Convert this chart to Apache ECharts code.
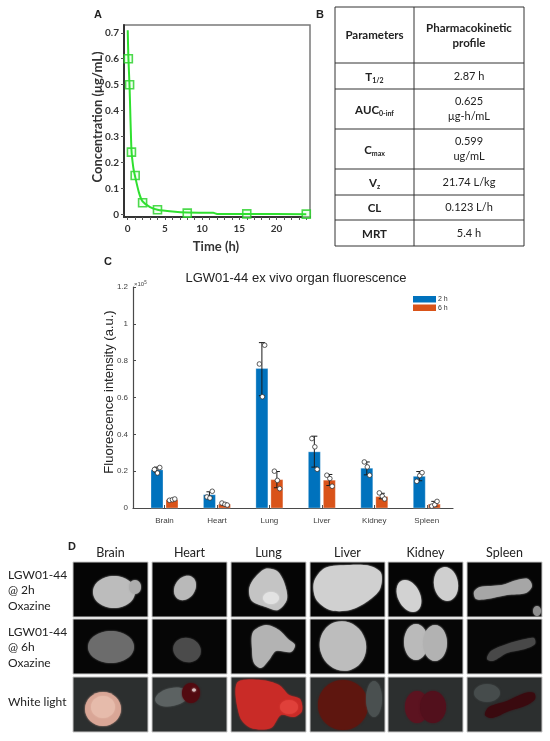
<!DOCTYPE html>
<html>
<head>
<meta charset="utf-8">
<script src="https://cdn.jsdelivr.net/npm/echarts@6/dist/echarts.min.js"></script>
<style>
  html, body { margin: 0; padding: 0; background: #fff; }
  #chart { width: 550px; height: 741px; }
</style>
</head>
<body>
<div id="chart"></div>
<script>
// ---- panel A : plasma concentration ----
const timePoints = [0.083, 0.25, 0.5, 1, 2, 4, 8, 16, 24];
const concValues = [0.6, 0.5, 0.24, 0.15, 0.045, 0.018, 0.005, 0.002, 0.001];
const fitTimes = [0, 0.083, 0.25, 0.5, 0.75, 1, 1.5, 2, 3, 4, 6, 8, 11.5, 12, 16, 24];
const fitValues = [0.71, 0.61, 0.49, 0.25, 0.18, 0.145, 0.085, 0.05, 0.028, 0.018, 0.011, 0.007, 0.006, 0.002, 0.0015, 0.001];
const timeTicks = [0, 5, 10, 15, 20];
const concTicks = [0, 0.1, 0.2, 0.3, 0.4, 0.5, 0.6, 0.7];

// ---- panel B : PK table ----
const paramNames = ['{b|T}{s|1/2}', '{b|AUC}{s|0-inf}', '{b|C}{s|max}', '{b|V}{s|z}', '{b|CL}', '{b|MRT}'];
const paramValues = ['2.87 h', '0.625\nμg-h/mL', '0.599\nug/mL', '21.74 L/kg', '0.123 L/h', '5.4 h'];

// ---- panel C : organ fluorescence (x10^5) ----
const organs = ['Brain', 'Heart', 'Lung', 'Liver', 'Kidney', 'Spleen'];
const mean2h = [0.207, 0.072, 0.757, 0.305, 0.216, 0.172];
const mean6h = [0.045, 0.021, 0.154, 0.151, 0.062, 0.021];
const low2h = [0.195, 0.058, 0.61, 0.222, 0.18, 0.148];
const high2h = [0.222, 0.088, 0.898, 0.39, 0.25, 0.198];
const low6h = [0.042, 0.016, 0.11, 0.122, 0.05, 0.008];
const high6h = [0.049, 0.026, 0.198, 0.182, 0.08, 0.036];
const dots2h = [[0.209, 0.19, 0.22], [0.06, 0.054, 0.091], [0.782, 0.604, 0.884], [0.377, 0.332, 0.21], [0.25, 0.223, 0.178], [0.145, 0.176, 0.192]];
const dots6h = [[0.042, 0.045, 0.049], [0.027, 0.02, 0.016], [0.2, 0.15, 0.105], [0.178, 0.16, 0.118], [0.082, 0.064, 0.049], [0.01, 0.018, 0.036]];
const groupNames = ['2 h', '6 h'];

// ---- panel D : image grid labels ----
const rowLabels = ['LGW01-44\n@ 2h\nOxazine', 'LGW01-44\n@ 6h\nOxazine', 'White light'];

const barColors = ['#0072BD', '#D95319'];
const jitter = [-2.5, 0.5, 2.8];

const chart = echarts.init(document.getElementById('chart'));

const barData = [];
const dotData = [];
organs.forEach((o, i) => {
  barData.push([i + 1, mean2h[i], low2h[i], high2h[i], 0]);
  barData.push([i + 1, mean6h[i], low6h[i], high6h[i], 1]);
  dots2h[i].forEach((v, k) => dotData.push([i + 1, v, 0, k]));
  dots6h[i].forEach((v, k) => dotData.push([i + 1, v, 1, k]));
});

function renderBar(params, api) {
  const g = api.value(4);
  const shift = g === 0 ? -7.5 : 7.5;
  const top = api.coord([api.value(0), api.value(1)]);
  const base = api.coord([api.value(0), 0]);
  const lo = api.coord([api.value(0), api.value(2)]);
  const hi = api.coord([api.value(0), api.value(3)]);
  const cx = top[0] + shift;
  const ink = { stroke: '#1a1a1a', lineWidth: 1 };
  return {
    type: 'group',
    children: [
      { type: 'rect', shape: { x: cx - 6, y: top[1], width: 12, height: base[1] - top[1] },
        style: { fill: barColors[g], stroke: 'rgba(255,255,255,0.5)', lineWidth: 0.6 } },
      { type: 'line', shape: { x1: cx, y1: lo[1], x2: cx, y2: hi[1] }, style: ink },
      { type: 'line', shape: { x1: cx - 3, y1: lo[1], x2: cx + 3, y2: lo[1] }, style: ink },
      { type: 'line', shape: { x1: cx - 3, y1: hi[1], x2: cx + 3, y2: hi[1] }, style: ink }
    ]
  };
}

function renderDot(params, api) {
  const p = api.coord([api.value(0), api.value(1)]);
  const shift = (api.value(2) === 0 ? -7.5 : 7.5) + jitter[api.value(3)];
  return {
    type: 'circle',
    shape: { cx: p[0] + shift, cy: p[1], r: 2.3 },
    style: { fill: '#fff', stroke: '#333', lineWidth: 0.8 }
  };
}

// text helper
function txt(x, y, text, opt) {
  return Object.assign({
    type: 'text', x: x, y: y,
    style: Object.assign({
      text: text, align: 'center', verticalAlign: 'middle',
      textAlign: 'center', textVerticalAlign: 'middle',
      fill: '#222', font: '11px Lato'
    }, (opt && opt.style) || {})
  }, (opt && opt.el) || {});
}

// ---- table graphic ----
const tLeft = 335, tRight = 524, tMid = 414;
const rowEdges = [7, 63, 89, 129, 169, 195, 220, 246];
const table = [];
table.push({ type: 'rect', shape: { x: tLeft, y: rowEdges[0], width: tRight - tLeft, height: rowEdges[7] - rowEdges[0] },
  style: { fill: '#fff', stroke: '#333', lineWidth: 1 } });
table.push({ type: 'line', shape: { x1: tMid, y1: rowEdges[0], x2: tMid, y2: rowEdges[7] }, style: { stroke: '#333', lineWidth: 1 } });
rowEdges.slice(1, 7).forEach(y => {
  table.push({ type: 'line', shape: { x1: tLeft, y1: y, x2: tRight, y2: y }, style: { stroke: '#333', lineWidth: 1 } });
});
table.push(txt((tLeft + tMid) / 2, 35.5, 'Parameters', { style: { font: 'bold 11.5px Lato' } }));
table.push(txt((tMid + tRight) / 2, 35.5, 'Pharmacokinetic\nprofile', { style: { font: 'bold 11.5px Lato', lineHeight: 15 } }));
paramNames.forEach((n, i) => {
  const cy = (rowEdges[i + 1] + rowEdges[i + 2]) / 2 + 1;
  table.push(txt((tLeft + tMid) / 2, cy, n, { style: { rich: {
    b: { font: 'bold 11.5px Lato', fill: '#222', lineHeight: 14 },
    s: { font: 'bold 7px Lato', fill: '#222', lineHeight: 8, verticalAlign: 'bottom' }
  } } }));
  table.push(txt((tMid + tRight) / 2, cy - 1, paramValues[i], { style: { font: '11px Lato', lineHeight: 15 } }));
});

// ---- photo grid (drawn shapes standing in for the organ photographs) ----
const colX = [73, 152, 231, 310, 388, 467];
const rowY = [562, 619, 677];
const cellW = 75, cellH = 55;
const bgColors = ['#050505', '#060606', '#2c2f2f'];
const photoShapes = [
  [ // 2 h
    [{ e: [41, 30, 21, 16], c: '#bcbcbc' }, { e: [62, 25, 6, 7], c: '#adadad' }],
    [{ e: [33, 26, 10, 13, -0.6], c: '#b9b9b9' }],
    [{ pts: [[22, 18], [34, 7], [46, 9], [53, 20], [56, 37], [47, 48], [35, 45], [21, 39], [18, 28]], c: '#c4c4c4' }, { e: [40, 36, 8, 6], c: '#e2e2e2' }],
    [{ pts: [[4, 20], [15, 6], [40, 3], [60, 4], [71, 11], [70, 27], [58, 39], [40, 48], [20, 48], [6, 37]], c: '#d0d0d0' }],
    [{ e: [21, 34, 11, 17, 0.45], c: '#d2d2d2' }, { e: [58, 22, 12, 17, 0.15], c: '#cfcfcf' }],
    [{ pts: [[7, 30], [13, 25], [35, 23], [50, 18], [61, 17], [65, 24], [59, 31], [40, 33], [20, 37], [9, 37]], c: '#a6a6a6' }, { e: [70, 49, 4, 5], c: '#8f8f8f' }]
  ],
  [ // 6 h
    [{ e: [38, 28, 23, 16], c: '#6c6c6c' }],
    [{ e: [35, 31, 14, 12, -0.3], c: '#4b4b4b' }],
    [{ pts: [[22, 13], [35, 6], [48, 11], [57, 20], [64, 26], [60, 33], [45, 32], [38, 41], [30, 49], [23, 44], [21, 30]], c: '#b3b3b3' }],
    [{ e: [33, 27, 23, 25, 0.3], c: '#bdbdbd' }],
    [{ e: [28, 23, 12, 18], c: '#bababa' }, { e: [47, 24, 12, 18], c: '#b2b2b2' }],
    [{ pts: [[20, 40], [24, 32], [40, 25], [58, 20], [67, 19], [68, 25], [58, 30], [40, 34], [26, 42]], c: '#484848' }]
  ],
  [ // white light
    [{ e: [30, 32, 18, 17], c: '#d9a696' }, { e: [30, 30, 12, 11], c: '#e6bbab' }],
    [{ e: [20, 20, 17, 9, 0.2], c: '#5c6262' }, { e: [39, 16, 9, 10], c: '#520a10' }, { e: [42, 13, 2, 1.5], c: '#d8c0c0' }],
    [{ pts: [[6, 6], [30, 3], [48, 8], [58, 18], [69, 22], [71, 34], [63, 40], [50, 38], [40, 51], [20, 51], [9, 40]], c: '#c92b27' }, { e: [58, 30, 9, 7], c: '#e0403a' }],
    [{ e: [33, 28, 25, 25], c: '#5e160f' }, { e: [64, 22, 8, 18], c: '#4a5050' }],
    [{ e: [29, 30, 12, 16], c: '#5c1320' }, { e: [45, 30, 13, 16], c: '#52101c' }],
    [{ e: [20, 16, 13, 9], c: '#464c4c' }, { pts: [[18, 38], [22, 30], [40, 24], [58, 16], [67, 16], [68, 22], [60, 28], [42, 34], [25, 41]], c: '#3a0a0f' }]
  ]
];

function organ(s) {
  const style = { fill: s.c, shadowBlur: 2, shadowColor: s.c };
  if (s.pts) return { type: 'polygon', shape: { points: s.pts, smooth: 0.3 }, style: style };
  return { type: 'ellipse', x: s.e[0], y: s.e[1], rotation: s.e[4] || 0,
    shape: { cx: 0, cy: 0, rx: s.e[2], ry: s.e[3] }, style: style };
}

const photos = [];
rowY.forEach((y, r) => {
  colX.forEach((x, c) => {
    photos.push({
      type: 'group', x: x, y: y,
      children: [{ type: 'rect', shape: { x: 0, y: 0, width: cellW, height: cellH }, style: { fill: bgColors[r] } }]
        .concat(photoShapes[r][c].map(organ))
        .concat([{ type: 'rect', shape: { x: 0, y: 0, width: cellW, height: cellH }, style: { fill: 'none', stroke: '#c8c8c8', lineWidth: 1 } }])
    });
  });
});
organs.forEach((o, c) => photos.push(txt(colX[c] + cellW / 2, 553, o, { style: { font: '12.5px Lato' } })));
const rowLabelTop = [567, 624, 694];
rowLabels.forEach((l, r) => photos.push(txt(8, rowLabelTop[r], l,
  { style: { font: '12px Lato', lineHeight: 15.5, align: 'left', textAlign: 'left', verticalAlign: 'top', textVerticalAlign: 'top' } })));

const letters = [['A', 98, 15], ['B', 320, 15], ['C', 108, 262], ['D', 72, 547]]
  .map(l => txt(l[1], l[2], l[0], { style: { font: 'bold 11px "Liberation Sans"' } }));

const legend = [];
groupNames.forEach((n, g) => {
  const y = 296 + g * 8.5;
  legend.push({ type: 'rect', shape: { x: 413, y: y, width: 23, height: 6.5 }, style: { fill: barColors[g] } });
  legend.push(txt(438, y + 3.3, n, { style: { font: '7px "Liberation Sans"', fill: '#333', align: 'left', textAlign: 'left' } }));
});

const axisTextA = { fontFamily: 'Lato', fontWeight: 'bold', fontSize: 10, color: '#333' };
const axisTextC = { fontFamily: 'Liberation Sans', fontSize: 8, color: '#404040' };

chart.setOption({
  animation: false,
  backgroundColor: '#fff',
  grid: [
    { left: 124, top: 25, width: 186, height: 192, show: true, borderColor: '#7a7a7a', borderWidth: 1.5 },
    { left: 133, top: 287, width: 320, height: 221 }
  ],
  xAxis: [
    {
      type: 'value', gridIndex: 0, min: -0.5, max: 24.5,
      axisLine: { onZero: false, lineStyle: { color: '#333', width: 2 } },
      axisTick: { customValues: [0,1,2,3,4,5,6,7,8,9,10,11,12,13,14,15,16,17,18,19,20,21,22,23,24], length: 3, lineStyle: { color: '#555' } },
      axisLabel: Object.assign({ customValues: timeTicks, margin: 7 }, axisTextA),
      splitLine: { show: false }
    },
    {
      type: 'value', gridIndex: 1, min: 0.4, max: 6.5,
      axisLine: { onZero: false, lineStyle: { color: '#4a4a4a', width: 1.2 } },
      axisTick: { customValues: [1, 2, 3, 4, 5, 6], inside: true, length: 3, lineStyle: { color: '#4a4a4a' } },
      axisLabel: Object.assign({ customValues: [1, 2, 3, 4, 5, 6], margin: 9, formatter: v => organs[Math.round(v) - 1] }, axisTextC),
      splitLine: { show: false }
    }
  ],
  yAxis: [
    {
      type: 'value', gridIndex: 0, min: -0.01, max: 0.73,
      axisLine: { show: true, onZero: false, lineStyle: { color: '#333', width: 2 } },
      axisTick: { show: true, customValues: concTicks, length: 3, lineStyle: { color: '#555' } },
      axisLabel: Object.assign({ customValues: concTicks, margin: 5, formatter: v => v === 0 ? '0' : v.toFixed(1) }, axisTextA),
      splitLine: { show: false }
    },
    {
      type: 'value', gridIndex: 1, min: 0, max: 1.2, interval: 0.2,
      axisLine: { show: true, onZero: false, lineStyle: { color: '#4a4a4a', width: 1.2 } },
      axisTick: { show: true, inside: true, length: 3, lineStyle: { color: '#4a4a4a' } },
      axisLabel: Object.assign({ margin: 5, formatter: v => v === 0 ? '0' : (v === 1 ? '1' : +v.toFixed(1) + '') }, axisTextC),
      splitLine: { show: false }
    }
  ],
  series: [
    {
      type: 'line', xAxisIndex: 0, yAxisIndex: 0,
      data: fitTimes.map((t, i) => [t, fitValues[i]]),
      smooth: 0.2, showSymbol: false,
      lineStyle: { color: '#2fe02f', width: 2 }
    },
    {
      type: 'scatter', xAxisIndex: 0, yAxisIndex: 0,
      data: timePoints.map((t, i) => [t, concValues[i]]),
      symbol: 'rect', symbolSize: 8,
      itemStyle: { color: 'rgba(230,255,230,0.7)', borderColor: '#22d022', borderWidth: 1.6 }
    },
    {
      type: 'custom', xAxisIndex: 1, yAxisIndex: 1,
      data: barData, renderItem: renderBar, encode: { x: 0, y: 1 }
    },
    {
      type: 'custom', xAxisIndex: 1, yAxisIndex: 1,
      data: dotData, renderItem: renderDot, encode: { x: 0, y: 1 }, z: 5
    }
  ],
  graphic: [].concat(
    letters,
    [
      txt(98, 117, 'Concentration (μg/mL)', { style: { font: 'bold 13px Lato', fill: '#333' }, el: { rotation: Math.PI / 2 } }),
      txt(216, 247, 'Time (h)', { style: { font: 'bold 13px Lato', fill: '#333' } }),
      txt(296, 278, 'LGW01-44 ex vivo organ fluorescence', { style: { font: '13px "Liberation Sans"', fill: '#222' } }),
      txt(109, 392, 'Fluorescence intensity (a.u.)', { style: { font: '13px "Liberation Sans"', fill: '#262626' }, el: { rotation: Math.PI / 2 } }),
      txt(134, 284, '{a|×10}{b|5}', { style: { align: 'left', textAlign: 'left', rich: {
        a: { font: '6px "Liberation Sans"', fill: '#444', lineHeight: 8 },
        b: { font: '4.5px "Liberation Sans"', fill: '#444', lineHeight: 5, verticalAlign: 'top' }
      } } })
    ],
    legend,
    table,
    photos
  )
});
</script>
</body>
</html>
